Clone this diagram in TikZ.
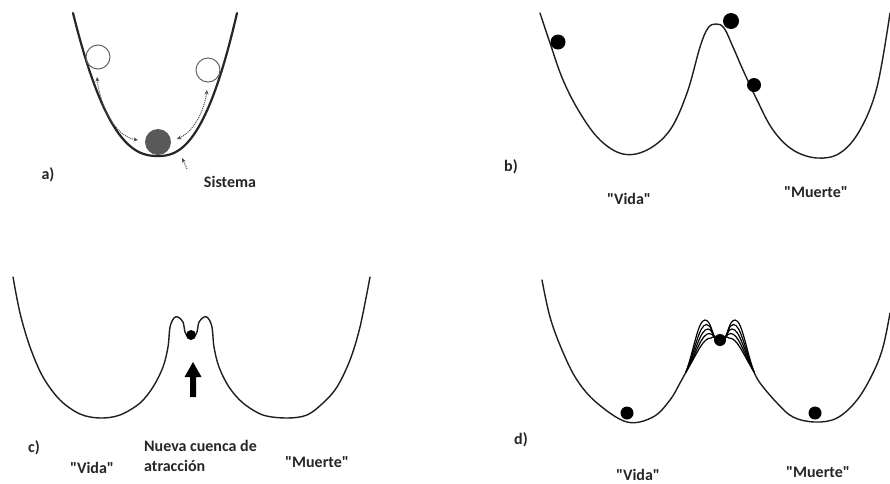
\documentclass[tikz,border=0pt]{standalone}
\usepackage{fontspec}
\newfontfamily\labfont{Carlito}
\usetikzlibrary{arrows.meta}
\begin{document}
\begin{tikzpicture}[x=1pt,y=-1pt,
  curve/.style={line width=1.4pt, draw=black!88, line join=round, line cap=round},
  ballf/.style={circle, fill=black, inner sep=0pt, minimum size=#1},
  lbl/.style={font=\labfont\fontsize{16}{18}\selectfont\bfseries, inner sep=0pt, text=black!85},
  dotarrow/.style={densely dotted, line width=1pt, draw=black!70, {Stealth[length=4.5pt,width=4pt]}-{Stealth[length=4.5pt,width=4pt]}}]
\useasboundingbox[fill=white] (0,0) rectangle (890,483);

% ---------------- panel a ----------------
\draw[curve, line width=2.2pt, draw=black!85] plot[smooth, domain=-1:1, samples=80]
  ({158 + (\x<0 ? 85 : 79)*\x}, {156 - 143*abs(\x)^2.4});
\node[circle, draw=black!60, line width=1pt, minimum size=24pt, inner sep=0pt] (lc) at (98,57) {};
\node[circle, draw=black!60, line width=1pt, minimum size=24pt, inner sep=0pt] (rc) at (208,70) {};
\node[circle, fill=black!65, minimum size=26pt, inner sep=0pt] (gb) at (158,142) {};
\coordinate (l1) at (97,77);
\coordinate (l2) at (138,140);
\coordinate (r1) at (177,139);
\coordinate (r2) at (207,90);
\draw[dotarrow] (l1) .. controls (101,112) and (118,137) .. (l2);
\draw[dotarrow] (r1) .. controls (193,132) and (204,112) .. (r2);
\coordinate (sysp) at (182,158);
\coordinate (syss) at (187,169);
\draw[densely dotted, line width=1pt, draw=black!70, -{Stealth[length=4.5pt,width=4pt]}] (syss) -- (sysp);
\node[lbl] (la) at (48,175) {a)};
\node[lbl] (sis) at (230,182) {Sistema};

% ---------------- panel b ----------------
\draw[curve] plot[smooth, tension=0.6] coordinates {
 (540,13) (550,43) (563,80) (580,113) (600,140) (623,154) (647,150) (670,130)
 (687,93) (700,47) (708,28) (716,24) (724,28) (733,47) (743,70) (757,100)
 (773,130) (793,150) (817,158) (840,153) (860,130) (877,87) (890,13)};
\node[ballf=15pt] (b1) at (558,42) {};
\node[ballf=16pt] (b2) at (731,21) {};
\node[ballf=14pt] (b3) at (754,85) {};
\node[lbl] (lb) at (511,167) {b)};
\node[lbl] (vb) at (629,199) {"Vida"};
\node[lbl] (mb) at (816,192) {"Muerte"};

% ---------------- panel c ----------------
\draw[curve] plot[smooth, tension=0.55] coordinates {
 (13,277) (20,313) (30,347) (43,377) (60,400) (80,414) (100,418) (120,415)
 (140,403) (153,387) (163,367) (168,347) (170,327) (174,318) (178,317) (183,322)
 (185,332) (188,337) (191,338) (194,337) (197,332) (199,322) (204,317) (208,318)
 (212,327) (214,347) (219,367) (229,387) (243,403) (263,415) (287,418) (307,415)
 (323,403) (337,387) (350,360) (360,327) (370,277)};
\node[ballf=10pt] (cb) at (191,335) {};
\fill[black] (190,397) -- (196,397) -- (196,377) -- (201.5,377) -- (193,362)
  -- (184.5,377) -- (190,377) -- cycle;
\node[lbl] (lcc) at (34,448) {c)};
\node[lbl] (vc) at (92,468) {"Vida"};
\node[lbl, anchor=west] (nc) at (144,446) {Nueva cuenca de};
\node[lbl, anchor=west] (ac) at (144,466) {atracción};
\node[lbl] (mc) at (317,462) {"Muerte"};

% ---------------- panel d ----------------
\draw[curve] plot[smooth, tension=0.6] coordinates {
 (542,280) (550,317) (562,350) (577,380) (597,403) (627,422) (653,417) (670,400)
 (680,383) (686,372)};
\draw[curve] plot[smooth, tension=0.6] coordinates {
 (754,372) (760,383) (777,403) (793,417) (815,422) (837,418) (857,400) (873,373)
 (883,347) (890,313)};
\foreach \k in {0,...,4}{
  \draw[line width=1.2pt, black] (686,372) .. controls ({694+\k},{350+0.5*\k}) and ({698+1.2*\k},{320+4.5*\k}) ..
    ({705+1.5*\k},{320+4.5*\k}) .. controls ({711+0.6*\k},{320+4.5*\k}) and (712,335) .. (716,339);
  \draw[line width=1.2pt, black] (754,372) .. controls ({746-\k},{350+0.5*\k}) and ({742-1.2*\k},{320+4.5*\k}) ..
    ({735-1.5*\k},{320+4.5*\k}) .. controls ({729-0.6*\k},{320+4.5*\k}) and (728,335) .. (724,339);
}
\node[ballf=12pt] (dc) at (720,340) {};
\node[ballf=13pt] (dl) at (627,413) {};
\node[ballf=13pt] (dr) at (815,413) {};
\node[lbl] (ld) at (521,440) {d)};
\node[lbl] (vd) at (638,475) {"Vida"};
\node[lbl] (md) at (818,472) {"Muerte"};
\end{tikzpicture}
\end{document}
